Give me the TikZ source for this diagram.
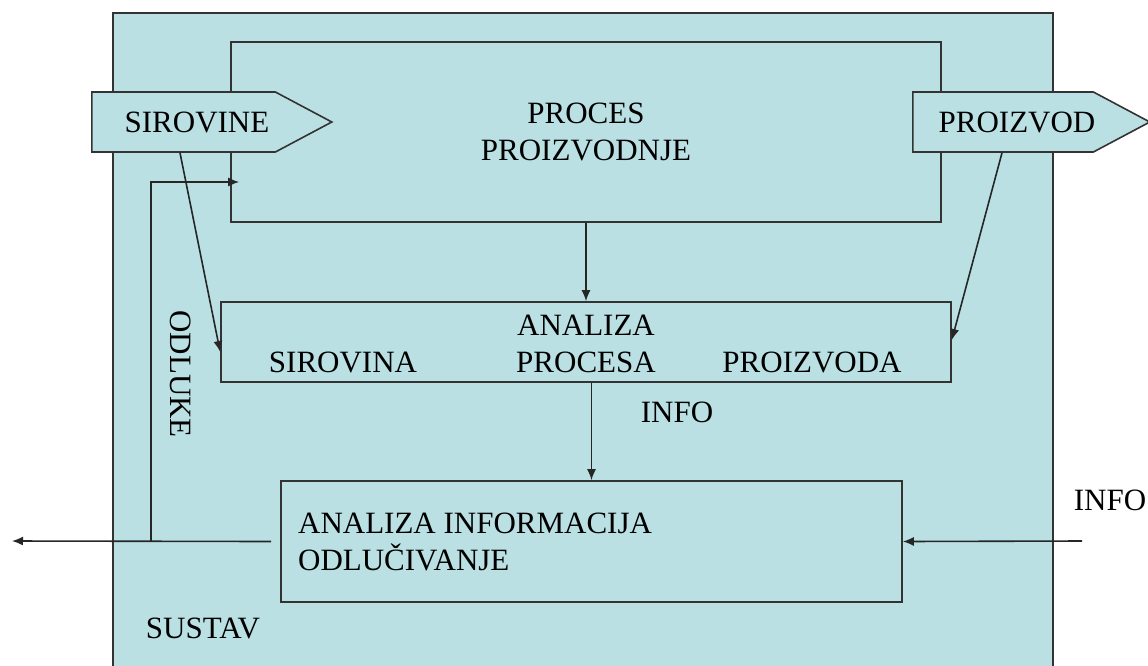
\documentclass[tikz,border=0pt]{standalone}
\usepackage{fontspec}
\setmainfont{Liberation Serif}
\usetikzlibrary{arrows.meta,shapes.symbols}
\definecolor{sustavblue}{RGB}{186,224,227}

\begin{document}
\begin{tikzpicture}[x=1pt,y=-1pt,>={Latex[length=11pt,width=9pt]},line width=1.6pt,
    every node/.style={font=\fontsize{31}{37}\selectfont},
    every edge/.append style={line width=1.6pt,draw=black!85},
    box/.style={draw=black!80,fill=sustavblue,rectangle,inner sep=0pt},
    tok/.style={draw=black!80,fill=sustavblue,signal,signal to=east,
        signal pointer angle=56,inner sep=0pt,minimum height=60pt}]
    \useasboundingbox (0,0) rectangle (1148,665);

    % sustav i proces
    \node[box,anchor=north west,minimum width=940pt,minimum height=680pt] (sustav) at (112,12) {};
    \node[box,minimum width=710pt,minimum height=180pt,align=center] (proces) at (586,132) {PROCES\\PROIZVODNJE};
    \node[tok,anchor=west,minimum width=240pt] (sirovine) at (91,122) {};
    \node[anchor=center] (sirovinetxt) at (197,122) {SIROVINE};
    \node[tok,anchor=west,minimum width=237pt] (proizvod) at (912,122) {};
    \node[anchor=center] (proizvodtxt) at (1017,122) {PROIZVOD};

    % analiza
    \node[box,minimum width=730pt,minimum height=80pt] (analiza) at (586,342) {};
    \node (analizatxt) at (586,325) {ANALIZA};
    \node (sirovina) at (343,362) {SIROVINA};
    \node (procesa) at (586,362) {PROCESA};
    \node (proizvoda) at (812,362) {PROIZVODA};

    % odlucivanje
    \node[box,minimum width=621pt,minimum height=121pt] (odluka) at (591.5,541.5) {};
    \node[anchor=west,align=left] (odlukatxt) at (294,542) {ANALIZA INFORMACIJA\\ODLUČIVANJE};

    \node (info) at (677,412) {INFO};
    \node (infovan) at (1110,500) {INFO};
    \node (sustavtxt) at (203,628) {SUSTAV};
    \node[rotate=-90] (odluke) at (181,374) {ODLUKE};

    \coordinate (izlaz) at (12,541);
    \coordinate (ulazinfo) at (1082,541);
    \coordinate (grana) at (151,541);

    \path[->] ([xshift=89pt]sirovine.south west) edge ([yshift=-10pt]analiza.west);
    \path[->] ([xshift=90pt]proizvod.south west) edge ([yshift=2pt]analiza.east);
    \path[->] (proces.south) edge (analiza.north);
    \path[->] (odluka.north |- analiza.south) edge (odluka.north);
    \path[->] (ulazinfo) edge (odluka.east);
    \path[->] ([xshift=-9pt]odluka.west) edge (izlaz);
    \draw[->,draw=black!85] (grana) |- ([xshift=9pt,yshift=-50pt]proces.west);
\end{tikzpicture}
\end{document}
